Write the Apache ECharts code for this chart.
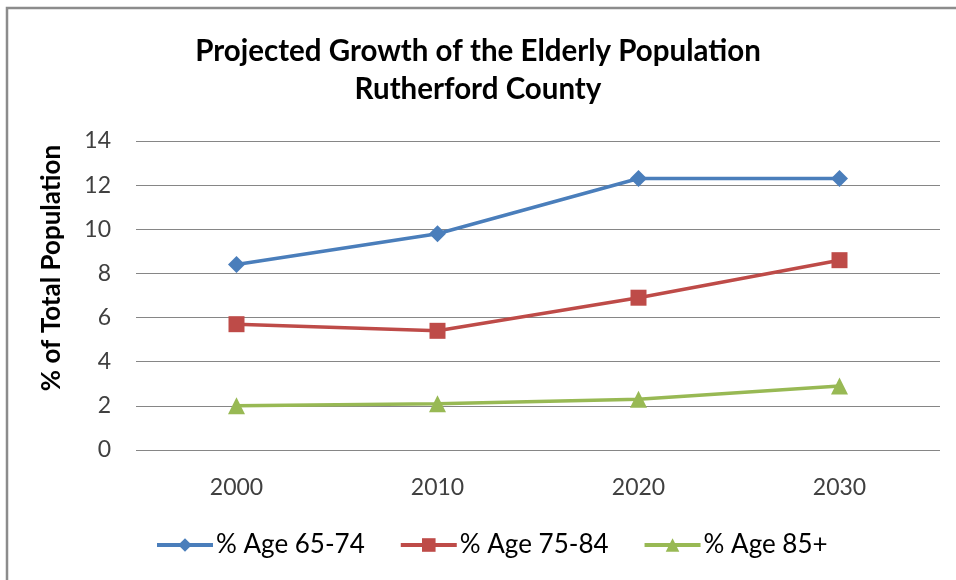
<!DOCTYPE html>
<html><head><meta charset="utf-8">
<script src="https://cdn.jsdelivr.net/npm/echarts@6/dist/echarts.min.js"></script>
<style>html,body{margin:0;padding:0;background:#fff}#c{width:956px;height:580px}</style>
</head><body><div id="c"></div>
<script>
const categories = ['2000', '2010', '2020', '2030'];
const age6574 = [8.4, 9.8, 12.3, 12.3];
const age7584 = [5.7, 5.4, 6.9, 8.6];
const age85 = [2.0, 2.1, 2.3, 2.9];
const seriesNames = ['% Age 65-74', '% Age 75-84', '% Age 85+'];
const titleLines = ['Projected Growth of the Elderly Population', 'Rutherford County'];
const yTitle = '% of Total Population';

const FONT = 'Lato, "Open Sans", sans-serif';
const chart = echarts.init(document.getElementById('c'));
const colors = ['#4A7EBB', '#BE4B48', '#98B954'];
const symbols = ['diamond', 'rect', 'triangle'];
const sizes = [17, 16, 17];
const data = [age6574, age7584, age85];

chart.setOption({
  animation: false,
  graphic: [{
    type: 'rect', shape: {x: 7, y: 8, width: 960, height: 590},
    style: {fill: 'none', stroke: '#8c8c8c', lineWidth: 2.5}
  }, {
    type: 'text', x: 52, y: 268, rotation: Math.PI / 2,
    style: {text: yTitle, fontFamily: FONT, fontWeight: 'bold', fontSize: 26,
      fill: '#000', align: 'center', verticalAlign: 'middle'}
  }],
  title: {
    text: titleLines.join('\n'),
    left: 'center', top: 27,
    textStyle: {fontFamily: FONT, fontWeight: 'bold', fontSize: 29.5, lineHeight: 38, color: '#000'}
  },
  legend: {
    top: 527, left: 150,
    itemWidth: 56, itemHeight: 17, itemGap: 34,
    lineStyle: {width: 4},
    textStyle: {fontFamily: FONT, fontSize: 26, color: '#000', padding: [0, 0, 0, -2]},
    data: seriesNames
  },
  grid: {left: 136, right: 16, top: 141, bottom: 130},
  xAxis: {
    type: 'category', data: categories, boundaryGap: true,
    axisLine: {show: false}, axisTick: {show: false},
    axisLabel: {fontFamily: FONT, fontSize: 23, color: '#404040', margin: 26}
  },
  yAxis: {
    type: 'value', min: 0, max: 14, interval: 2,
    axisLine: {show: false}, axisTick: {show: false},
    axisLabel: {fontFamily: FONT, fontSize: 23, color: '#404040', margin: 25},
    splitLine: {lineStyle: {color: '#868686', width: 1}}
  },
  series: seriesNames.map((n, i) => ({
    name: n, type: 'line', data: data[i],
    symbol: symbols[i], symbolSize: sizes[i], showAllSymbol: true,
    lineStyle: {color: colors[i], width: 3.5},
    itemStyle: {color: colors[i]}
  }))
});
</script></body></html>
